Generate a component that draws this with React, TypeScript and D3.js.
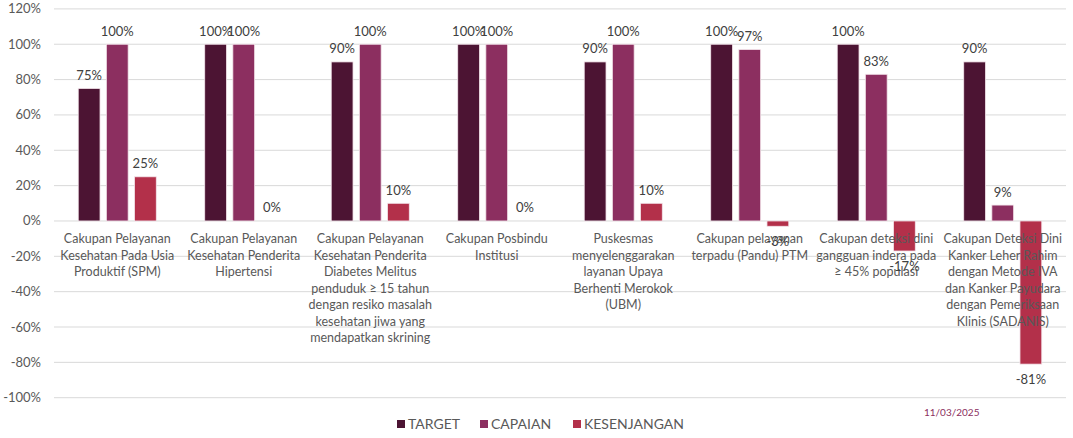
import React from "react";
import * as d3 from "d3";

const categories: string[][] = [
  ["Cakupan Pelayanan", "Kesehatan Pada Usia", "Produktif (SPM)"],
  ["Cakupan Pelayanan", "Kesehatan Penderita", "Hipertensi"],
  ["Cakupan Pelayanan", "Kesehatan Penderita", "Diabetes Melitus", "penduduk ≥ 15 tahun", "dengan resiko masalah", "kesehatan jiwa yang", "mendapatkan skrining"],
  ["Cakupan Posbindu", "Institusi"],
  ["Puskesmas", "menyelenggarakan", "layanan Upaya", "Berhenti Merokok", "(UBM)"],
  ["Cakupan pelayanan", "terpadu (Pandu) PTM"],
  ["Cakupan deteksi dini", "gangguan indera pada", "≥ 45% populasi"],
  ["Cakupan Deteksi Dini", "Kanker Leher Rahim", "dengan Metode IVA", "dan Kanker Payudara", "dengan Pemeriksaan", "Klinis (SADANIS)"],
];

const seriesNames = ["TARGET", "CAPAIAN", "KESENJANGAN"];
const target = [75, 100, 90, 100, 90, 100, 100, 90];
const capaian = [100, 100, 100, 100, 100, 97, 83, 9];
const kesenjangan = [25, 0, 10, 0, 10, -3, -17, -81];
const yTicks = [-100, -80, -60, -40, -20, 0, 20, 40, 60, 80, 100, 120];
const dateLabel = "11/03/2025";

const colors = ["#4c1433", "#8c2f60", "#b3304a"];
const FONT = "Lato, 'Open Sans', sans-serif";

export default function App() {
  const W = 1073, H = 438;
  const seriesValues = [target, capaian, kesenjangan];
  const x = d3.scaleBand<number>()
    .domain(d3.range(categories.length))
    .range([54, 1066])
    .paddingInner(0.383)
    .paddingOuter(0.1915);
  const x1 = d3.scaleBand<number>()
    .domain(d3.range(seriesNames.length))
    .range([0, x.bandwidth()])
    .paddingInner(0.225);
  const y = d3.scaleLinear().domain([-100, 120]).range([397.7, 8.9]);
  const legendX = [397, 480, 573];

  return (
    <svg width={W} height={H} style={{ position: "absolute", left: 0, top: 0, background: "#fff" }} fontFamily={FONT}>
      {yTicks.map((t) => (
        <g key={t}>
          <line x1={54} x2={1066} y1={y(t)} y2={y(t)} stroke="#d9d9d9" strokeWidth={1} />
          <text x={41} y={y(t) + 4.5} textAnchor="end" fontSize={13} fill="#595959">{t}%</text>
        </g>
      ))}
      {seriesValues.map((vals, s) =>
        vals.map((v, i) => {
          const bx = (x(i) as number) + (x1(s) as number);
          const y0 = y(Math.max(0, v));
          const y1v = y(Math.min(0, v));
          return v === 0 ? null : (
            <rect key={`b${s}-${i}`} x={bx} y={y0} width={x1.bandwidth()} height={y1v - y0}
              fill={colors[s]} stroke="#f4e6ec" strokeWidth={0.8} />
          );
        })
      )}
      {categories.map((lines, i) => {
        const cx = (x(i) as number) + x.bandwidth() / 2;
        return (
          <text key={`c${i}`} x={cx} y={243} textAnchor="middle" fontSize={12.5} fill="#595959">
            {lines.map((l, k) => (
              <tspan key={k} x={cx} dy={k === 0 ? 0 : 16.5}>{l}</tspan>
            ))}
          </text>
        );
      })}
      {seriesValues.map((vals, s) =>
        vals.map((v, i) => {
          const cx = (x(i) as number) + (x1(s) as number) + x1.bandwidth() / 2;
          const ly = v >= 0 ? y(v) - 8.5 : y(v) + 19.5;
          return (
            <text key={`l${s}-${i}`} x={cx} y={ly} textAnchor="middle" fontSize={13} fill="#404040">{v}%</text>
          );
        })
      )}
      {seriesNames.map((n, s) => (
        <g key={n}>
          <rect x={legendX[s]} y={420} width={8} height={8} fill={colors[s]} />
          <text x={legendX[s] + 11} y={429} fontSize={14} fill="#595959">{n}</text>
        </g>
      ))}
      <text x={924} y={416} fontSize={10} fill="#8c2f60">{dateLabel}</text>
    </svg>
  );
}
